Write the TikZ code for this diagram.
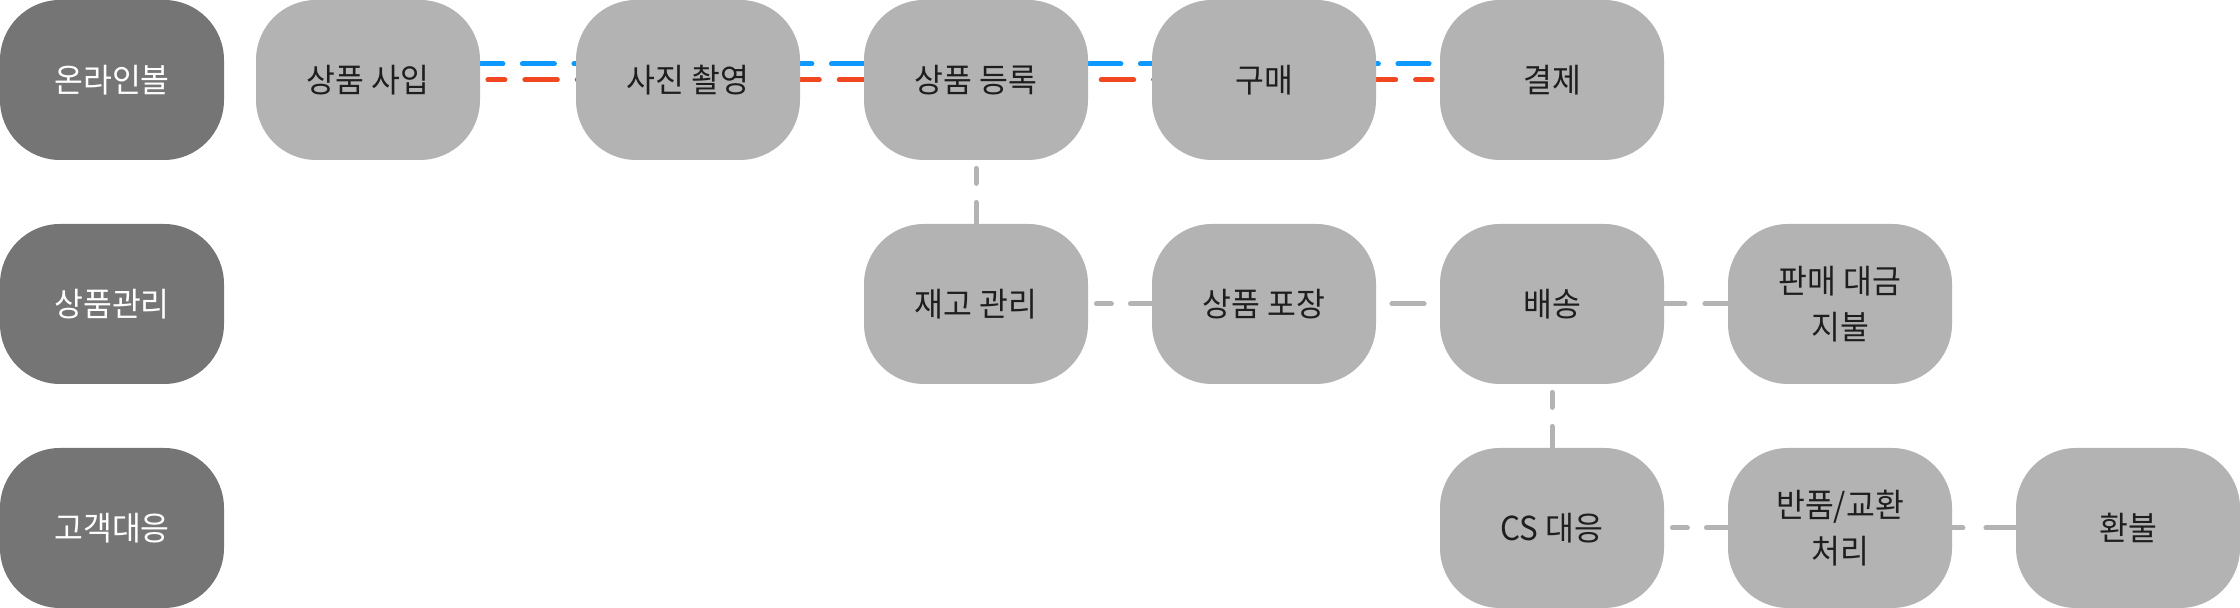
\documentclass[tikz,border=0pt]{standalone}
\usepackage{fontspec}
\newfontfamily\kr[FakeStretch=0.95]{Noto Sans CJK KR}
\usetikzlibrary{backgrounds}
\definecolor{boxgray}{HTML}{B3B3B3}
\definecolor{lanegray}{HTML}{757575}
\definecolor{ink}{HTML}{1E1E1E}
\definecolor{flowblue}{HTML}{0D99FF}
\definecolor{flowred}{HTML}{F24822}
\tikzset{
  box/.style={rectangle, rounded corners=30pt, minimum width=112pt, minimum height=80pt,
    inner sep=0pt, fill=boxgray, text=ink, align=center, font=\kr\fontsize{16.5pt}{23pt}\selectfont},
  lane/.style={box, fill=lanegray, text=white},
  link/.style={draw=boxgray, line width=2.5pt, line cap=round},
  flow/.style={line width=2.5pt, line cap=round},
  gapdash/.style={dash pattern=on 7.5pt off 9.5pt on 40pt off 4pt, dash phase=57pt},
}
\begin{document}
\begin{tikzpicture}
    \useasboundingbox (0,0) rectangle (1120pt,304pt);
    % lanes
    \node[lane] (online) at (56pt,264pt) {온라인볼};
    \node[lane] (goods) at (56pt,152pt) {상품관리};
    \node[lane] (client) at (56pt,40pt) {고객대응};
    % steps
    \node[box] (buy) at (184pt,264pt) {상품 사입};
    \node[box] (photo) at (344pt,264pt) {사진 촬영};
    \node[box] (register) at (488pt,264pt) {상품 등록};
    \node[box] (order) at (632pt,264pt) {구매};
    \node[box] (pay) at (776pt,264pt) {결제};
    \node[box] (stock) at (488pt,152pt) {재고 관리};
    \node[box] (pack) at (632pt,152pt) {상품 포장};
    \node[box] (ship) at (776pt,152pt) {배송};
    \node[box] (settle) at (920pt,152pt) {판매 대금\\지불};
    \node[box] (cs) at (776pt,40pt) {CS 대응};
    \node[box] (returns) at (920pt,40pt) {반품/교환\\처리};
    \node[box] (refund) at (1064pt,40pt) {환불};
    \begin{scope}[on background layer]
        \draw[flow, flowblue, dash pattern=on 16pt off 9.75pt, dash phase=4.75pt]
            ([yshift=8pt]buy.east) -- ([yshift=8pt, xshift=-5.25pt]pay.west);
        \draw[flow, flowred, dash pattern=on 16.25pt off 9.95pt, dash phase=7.75pt]
            ([xshift=3.75pt]buy.east) -- ([xshift=-3.75pt]pay.west);
        \draw[link, gapdash] (register.south) -- (stock.north);
        \draw[link, gapdash] (stock.east) -- (pack.west);
        \draw[link, shorten <=7.75pt, shorten >=7.75pt] (pack.east) -- (ship.west);
        \draw[link, dash pattern=on 10.25pt off 10pt on 40pt] (ship.east) -- (settle.west);
        \draw[link, gapdash] (ship.south) -- (cs.north);
        \draw[link, gapdash] (cs.east) -- (returns.west);
        \draw[link, dash pattern=on 5.25pt off 11.5pt on 40pt] (returns.east) -- (refund.west);
    \end{scope}
\end{tikzpicture}
\end{document}
